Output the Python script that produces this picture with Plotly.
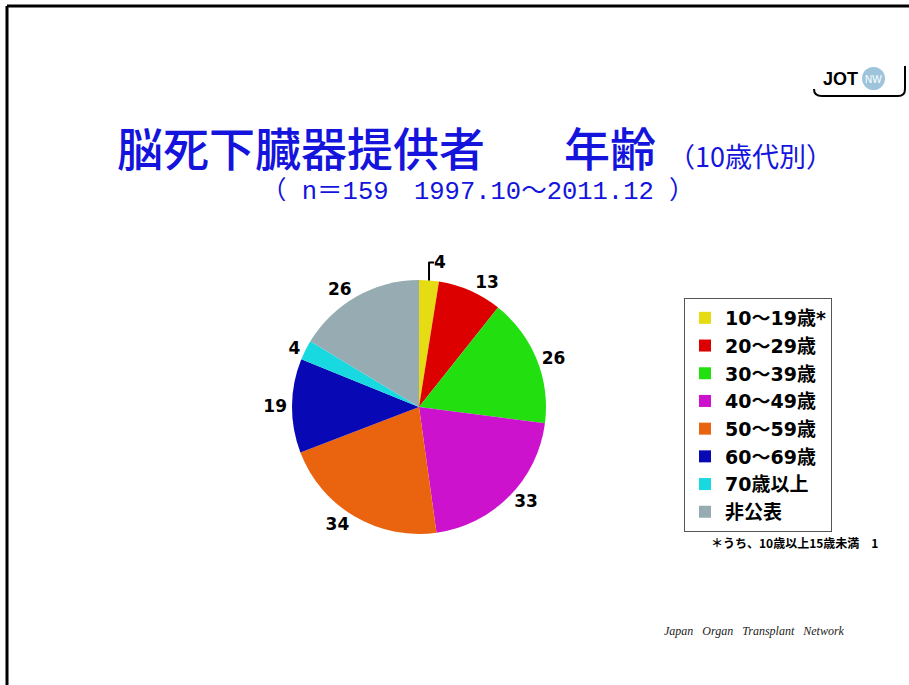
import plotly.graph_objects as go

# ---- data ----
age_groups = ["10～19歳*", "20～29歳", "30～39歳", "40～49歳", "50～59歳", "60～69歳", "70歳以上", "非公表"]
donor_counts = [4, 13, 26, 33, 34, 19, 4, 26]
slice_colors = ["#e6dc14", "#dc0000", "#22e010", "#cc12cc", "#ea6410", "#0808b4", "#18d8e0", "#96acb2"]

title_main_a = "脳死下臓器提供者"
title_main_b = "年齢"
title_sub_paren = "（10歳代別）"
subtitle = "（ n＝159　1997.10～2011.12 ）"
footnote = "＊うち、10歳以上15歳未満　1"
credit = "Japan\u00a0\u00a0\u00a0Organ\u00a0\u00a0\u00a0Transplant\u00a0\u00a0\u00a0Network"

W, H = 909, 685
BLUE = "#1414dc"
CJK = "Noto Sans CJK JP"

fig = go.Figure()

# pie centred at about (419, 407) px with radius ~127 px
cx, cy, r = 419, 407, 127
fig.add_trace(go.Pie(
    labels=age_groups,
    values=donor_counts,
    sort=False,
    direction="clockwise",
    rotation=0,
    marker=dict(colors=slice_colors, line=dict(width=0)),
    texttemplate="%{value}",
    textposition="outside",
    textfont=dict(family="DejaVu Sans", size=17, color="black", weight="bold"),
    domain=dict(x=[(cx - r) / W, (cx + r) / W], y=[1 - (cy + r) / H, 1 - (cy - r) / H]),
    showlegend=True,
    hoverinfo="label+value",
))

annotations = [
    dict(x=301, y=146, text=title_main_a, font=dict(family=CJK, size=46, color=BLUE, weight=500)),
    dict(x=610, y=146, text=title_main_b, font=dict(family=CJK, size=46, color=BLUE, weight=500)),
    dict(x=750, y=155, text=title_sub_paren, font=dict(family=CJK, size=27, color=BLUE)),
    dict(x=478, y=192, text=subtitle, font=dict(family="Liberation Mono, " + CJK, size=25.5, color=BLUE)),
    dict(x=794, y=542, text=footnote, font=dict(family=CJK, size=12, color="black", weight="bold")),
    dict(x=754, y=631, text=credit, font=dict(family="Liberation Serif", size=12, color="#222", style="italic")),
    dict(x=840, y=79, text="JOT", font=dict(family="Liberation Sans", size=18, color="black", weight="bold")),
    dict(x=873, y=79, text="NW", font=dict(family="Liberation Sans", size=10, color="white")),
]
for a in annotations:
    a.update(xref="x", yref="y", showarrow=False, xanchor="center", yanchor="middle")

shapes = [
    # slide frame (top and left)
    dict(type="line", x0=7, y0=6, x1=W, y1=6, line=dict(color="black", width=3)),
    dict(type="line", x0=7, y0=6, x1=7, y1=H, line=dict(color="black", width=3)),
    # logo circle
    dict(type="circle", x0=862, y0=67, x1=885, y1=90, fillcolor="#9ec4dc", line=dict(width=0), layer="below"),
    # logo bracket
    dict(type="path", path="M 814,89 Q 814,96 822,96 L 898,96 Q 905,96 905,89 L 905,66",
         line=dict(color="black", width=2)),
]

fig.update_layout(
    width=W, height=H,
    margin=dict(l=0, r=0, t=0, b=0),
    paper_bgcolor="white", plot_bgcolor="white",
    xaxis=dict(range=[0, W], visible=False, fixedrange=True, domain=[0, 1]),
    yaxis=dict(range=[H, 0], visible=False, fixedrange=True, domain=[0, 1]),
    annotations=annotations,
    shapes=shapes,
    legend=dict(
        x=684 / W, y=1 - 298 / H, xanchor="left", yanchor="top",
        bordercolor="#555", borderwidth=1, bgcolor="white",
        font=dict(family="DejaVu Sans, " + CJK, size=19, color="black", weight="bold"),
        traceorder="normal",
    ),
)

fig.write_html("out.html", config={"displayModeBar": False},
               post_script="document.body.style.margin='0';")
